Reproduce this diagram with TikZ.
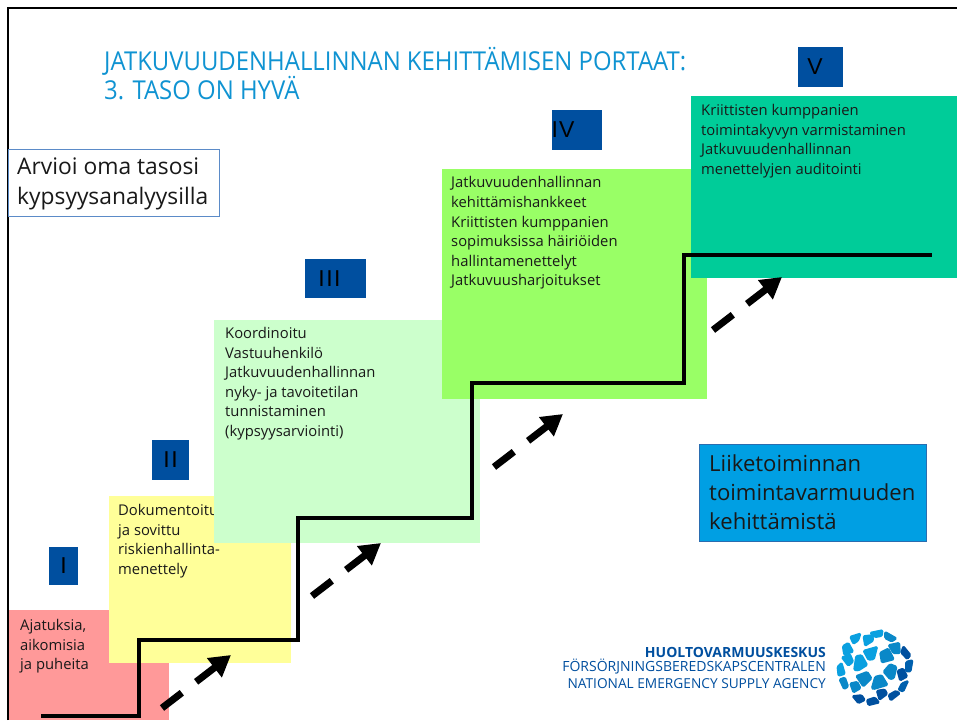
\documentclass[tikz,border=0pt]{standalone}
\usepackage{fontspec}
\setmainfont{Open Sans}
\newfontfamily\titlefont{Open Sans}
\newfontfamily\logofont{Open Sans}
\newfontfamily\romanfont{Liberation Sans}
\usetikzlibrary{arrows.meta}
\definecolor{lblue}{HTML}{004F9F}
\definecolor{tblue}{HTML}{0F93D2}
\definecolor{cred}{HTML}{FF9999}
\definecolor{cyel}{HTML}{FFFF99}
\definecolor{clgr}{HTML}{CCFFCC}
\definecolor{cmgr}{HTML}{99FF66}
\definecolor{cdgr}{HTML}{00CC99}
\definecolor{cbor}{HTML}{5B8BC8}
\definecolor{cliik}{HTML}{009FE3}
\definecolor{cliib}{HTML}{2A6DB0}
\definecolor{c1}{HTML}{0AA0E0}\definecolor{c2}{HTML}{0A88C8}\definecolor{c3}{HTML}{00509F}\definecolor{c4}{HTML}{0060AE}
\tikzset{
  x=1pt,y=-1pt,
  stepfill/.style={anchor=north west,inner sep=0pt,outer sep=0pt,draw=none},
  body/.style={anchor=north west,inner sep=0pt,align=left,text=black!90,font=\fontsize{14.8}{19.6}\selectfont},
  roman/.style={fill=lblue,inner sep=0pt,outer sep=0pt,text=black,font=\romanfont\fontsize{23}{23}\selectfont},
  stair/.style={line width=4pt,black,line join=miter},
  bigarrow/.style={line width=7pt,black,dash pattern=on 25pt off 18pt on 60pt,-{Triangle[length=21pt,width=23pt]}},
  logotext/.style={anchor=east,inner sep=0pt,text=lblue},
  seed/.style={rounded corners=1.2pt,line width=1.6pt,line join=round}
}
\newcommand{\cell}[2]{\filldraw[seed,fill=#1,draw=#1] #2 -- cycle;}
\begin{document}
\begin{tikzpicture}
\useasboundingbox (0,0) rectangle (957,720);
\fill[white] (0,0) rectangle (957,720);
% frame
\draw[line width=2.6pt,black] (8,720) -- (8,8) -- (957,8);
% steps
\node[stepfill,fill=cred,minimum width=160pt,minimum height=110pt] (s1) at (9,610) {};
\node[body] (t1) at (20,619) {Ajatuksia,\\aikomisia\\ja puheita};
\node[stepfill,fill=cyel,minimum width=182pt,minimum height=167pt] (s2) at (109,496) {};
\node[body] (t2) at (118,504) {Dokumentoitu\\ja sovittu\\riskienhallinta-\\menettely};
\node[stepfill,fill=clgr,minimum width=266pt,minimum height=223pt] (s3) at (214,320) {};
\node[body] (t3) at (225,327) {Koordinoitu\\Vastuuhenkilö\\Jatkuvuudenhallinnan\\nyky- ja tavoitetilan\\tunnistaminen\\(kypsyysarviointi)};
\node[stepfill,fill=cmgr,minimum width=265pt,minimum height=230pt] (s4) at (442,169) {};
\node[body] (t4) at (451,176.5) {Jatkuvuudenhallinnan\\kehittämishankkeet\\Kriittisten kumppanien\\sopimuksissa häiriöiden\\hallintamenettelyt\\Jatkuvuusharjoitukset};
\node[stepfill,fill=cdgr,minimum width=266pt,minimum height=182pt] (s5) at (691,96) {};
\node[body] (t5) at (701,104) {Kriittisten kumppanien\\toimintakyvyn varmistaminen\\Jatkuvuudenhallinnan\\menettelyjen auditointi};
% roman labels
\node[roman,minimum width=29pt,minimum height=38pt] (r1) at (63.5,566) {I};
\node[roman,minimum width=37pt,minimum height=40pt] (r2) at (170.5,460) {I\kern1.5pt I};
\node[roman,minimum width=61pt,minimum height=39pt] (r3) at (335.5,278.5) {I\kern1.5pt I\kern1.5pt I\kern12pt};
\node[roman,minimum width=48pt,minimum height=40pt] (r4) at (577,130) {I\kern1pt V\kern28pt};
\node[roman,minimum width=45pt,minimum height=40pt] (r5) at (820.5,67) {V\kern11pt};
% stair
\coordinate (st0) at (41,716);
\coordinate (st1) at (932,255);
\draw[stair] (st0) -- (139,716) -- (139,640) -- (298,640) -- (298,518) -- (472,518) -- (472,383) -- (684,383) -- (684,255) -- (st1);
% arrows
\coordinate (a1s) at (162,708); \coordinate (a1e) at (231,655);
\coordinate (a2s) at (312,596); \coordinate (a2e) at (381,543);
\coordinate (a3s) at (494,467); \coordinate (a3e) at (563,414);
\coordinate (a4s) at (713,330); \coordinate (a4e) at (782,277);
\draw[bigarrow] (a1s) -- (a1e);
\draw[bigarrow] (a2s) -- (a2e);
\draw[bigarrow] (a3s) -- (a3e);
\draw[bigarrow] (a4s) -- (a4e);
% title
\node[anchor=west,inner sep=0pt,text=tblue,align=left,font=\titlefont\fontsize{26}{29}\selectfont] (title) at (104,73.5) {\scalebox{.92}[1]{JATKUVUUDENHALLINNAN KEHITTÄMISEN PORTAAT:}\\\scalebox{.92}[1]{3. TASO ON HYVÄ}};
% side boxes
\node[stepfill,fill=white,draw=cbor,line width=.8pt,minimum width=211pt,minimum height=67pt] (arv) at (8,149) {};
\node[anchor=west,inner sep=0pt,align=left,font=\fontsize{22.8}{30}\selectfont,text=black!90] (arvt) at (17,183.5) {Arvioi oma tasosi\\kypsyysanalyysilla};
\node[stepfill,fill=cliik,draw=cliib,line width=.8pt,minimum width=227pt,minimum height=97pt] (lik) at (699,444) {};
\node[anchor=west,inner sep=0pt,align=left,font=\fontsize{22.1}{29}\selectfont,text=black!90] (likt) at (709,492) {Liiketoiminnan\\toimintavarmuuden\\kehittämistä};
% logo text
\node[logotext,font=\logofont\bfseries\fontsize{14}{14}\selectfont] (l1) at (826,652) {HUOLTOVARMUUSKESKUS};
\node[logotext,font=\logofont\fontsize{14}{14}\selectfont] (l2) at (826,667) {FÖRSÖRJNINGSBEREDSKAPSCENTRALEN};
\node[logotext,font=\logofont\fontsize{13.7}{14}\selectfont] (l3) at (826,684) {NATIONAL EMERGENCY SUPPLY AGENCY};
% logo mark
\begin{scope}[shift={(820,620)},x=.3333pt,y=-.3333pt]
\cell{c1}{(150,38) -- (188,30) -- (186,48) -- (165,52)}
\cell{c2}{(195,35) -- (230,55) -- (215,65) -- (195,55)}
\cell{c2}{(205,75) -- (238,68) -- (240,100) -- (220,100)}
\cell{c3}{(250,78) -- (272,105) -- (262,118) -- (243,98)}
\cell{c4}{(258,125) -- (278,120) -- (272,155) -- (258,155)}
\cell{c3}{(232,152) -- (250,145) -- (262,170) -- (240,182)}
\cell{c4}{(245,190) -- (265,182) -- (250,215) -- (235,210)}
\cell{c3}{(205,225) -- (228,212) -- (240,220) -- (212,242)}
\cell{c3}{(170,212) -- (195,208) -- (202,222) -- (178,240)}
\cell{c3}{(140,240) -- (165,232) -- (178,248) -- (145,256)}
\cell{c3}{(97,228) -- (125,225) -- (135,240) -- (115,250)}
\cell{c2}{(90,190) -- (112,185) -- (122,205) -- (100,218)}
\cell{c2}{(58,178) -- (75,172) -- (85,200) -- (72,208)}
\cell{c1}{(52,140) -- (65,128) -- (75,162) -- (55,168)}
\cell{c1}{(65,112) -- (90,102) -- (100,125) -- (85,138)}
\cell{c1}{(68,78) -- (85,68) -- (100,95) -- (72,105)}
\cell{c1}{(90,50) -- (122,40) -- (115,62) -- (100,72)}
\cell{c1}{(130,48) -- (158,45) -- (160,62) -- (135,78)}
\cell{c1}{(130,92) -- (172,80) -- (162,118) -- (145,120)}
\cell{c2}{(180,98) -- (205,85) -- (222,118) -- (185,128)}
\cell{c1}{(108,108) -- (125,105) -- (142,135) -- (115,152) -- (102,150)}
\cell{c2}{(190,155) -- (210,132) -- (230,140) -- (222,175) -- (210,178)}
\cell{c2}{(108,168) -- (142,155) -- (155,175) -- (130,200)}
\cell{c2}{(165,170) -- (185,165) -- (203,195) -- (160,208) -- (155,205)}
\end{scope}
\end{tikzpicture}
\end{document}
